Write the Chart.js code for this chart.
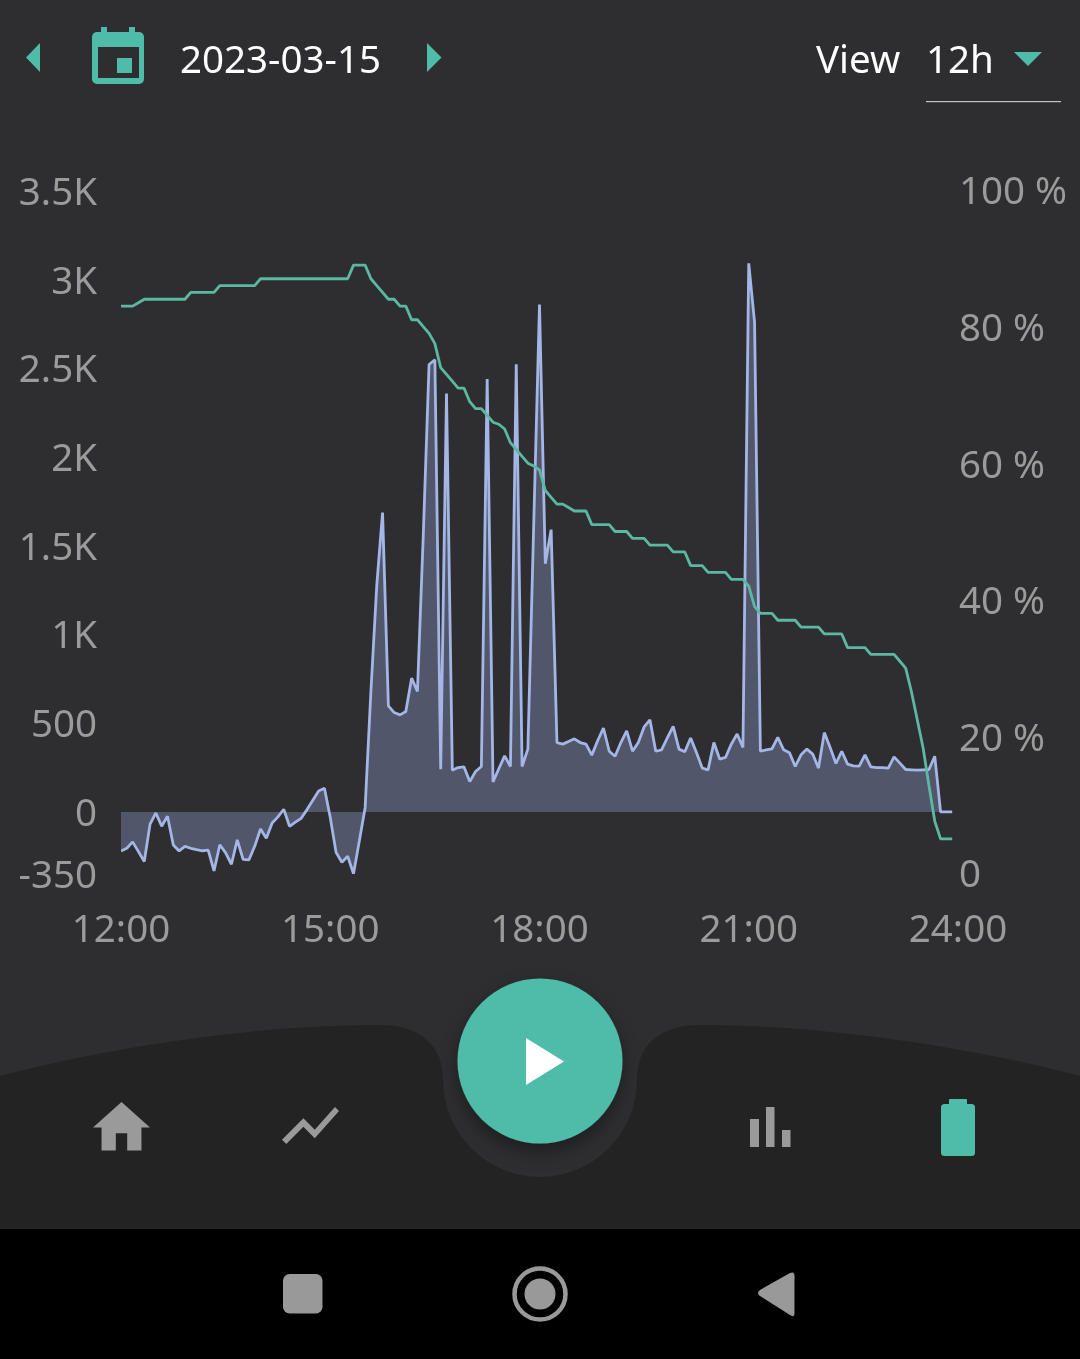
<!DOCTYPE html>
<html>
<head>
<meta charset="utf-8">
<title>Battery 2023-03-15</title>
<script src="https://cdn.jsdelivr.net/npm/chart.js@4"></script>
<style>
  html, body { margin: 0; padding: 0; background: #2e2e30; width: 1080px; height: 1359px; overflow: hidden; }
  body { position: relative; font-family: "Noto Sans", sans-serif; }
  #grafico { position: absolute; left: 0; top: 0; }
  #iconos { position: absolute; left: 0; top: 0; }
  .txt { position: absolute; color: #fff; font-size: 38.5px; line-height: 46px; white-space: nowrap; }
</style>
</head>
<body>
<canvas id="grafico" width="1080" height="960"></canvas>
<svg id="iconos" width="1080" height="1359" viewBox="0 0 1080 1359">
  <defs>
    <filter id="sombra" x="-30%" y="-30%" width="160%" height="160%">
      <feDropShadow dx="0" dy="8" stdDeviation="9" flood-color="#000" flood-opacity="0.35"/>
    </filter>
  </defs>
  <!-- barra superior -->
  <path d="M40 43 L26 57.5 L40 72 Z" fill="#4fbcaa"/>
  <rect x="101" y="27" width="6" height="8" fill="#4fbcaa"/>
  <rect x="129" y="27" width="6" height="8" fill="#4fbcaa"/>
  <rect x="92" y="32" width="52" height="52" rx="5" fill="#4fbcaa"/>
  <rect x="98" y="47" width="41" height="31" fill="#2e2e30"/>
  <rect x="117" y="58" width="15" height="15" fill="#4fbcaa"/>
  <path d="M427 43 L441.5 57.5 L427 72 Z" fill="#4fbcaa"/>
  <path d="M1014 52 L1042 52 L1028 66 Z" fill="#4fbcaa"/>
  <rect x="926" y="101" width="135" height="1.2" fill="#c4c4c4"/>
  <!-- barra inferior -->
  <path d="M0 1076 C130 1042 270 1025 380 1025 C420 1025 443 1045 443 1080 A97 97 0 0 0 637 1080 C637 1045 660 1025 700 1025 C810 1025 950 1042 1080 1076 L1080 1229 L0 1229 Z" fill="#232323"/>
  <circle cx="540" cy="1061" r="82.5" fill="#4fbcaa" filter="url(#sombra)"/>
  <path d="M526 1038 L564 1061.5 L526 1085 Z" fill="#fff"/>
  <path transform="translate(87.3 1093.4) scale(2.85)" d="M10 20v-6h4v6h5v-8h3L12 3 2 12h3v8z" fill="#9a9a9a"/>
  <path transform="translate(276.3 1091.3) scale(2.85)" d="M3.5 18.49l6-6.01 4 4L22 6.92l-1.41-1.41-7.09 7.97-4-4L2 16.99z" fill="#9a9a9a"/>
  <rect x="750" y="1119" width="9" height="28" fill="#9a9a9a"/>
  <rect x="766" y="1107" width="8.5" height="40" fill="#9a9a9a"/>
  <rect x="782" y="1130" width="8.5" height="17" fill="#9a9a9a"/>
  <rect x="949" y="1099" width="18" height="8" rx="1" fill="#4fbcaa"/>
  <rect x="941" y="1104" width="34" height="52" rx="3.5" fill="#4fbcaa"/>
  <!-- barra del sistema -->
  <rect x="0" y="1229" width="1080" height="130" fill="#000"/>
  <rect x="283" y="1274" width="39.5" height="39.5" rx="6.5" fill="#999"/>
  <circle cx="540" cy="1294" r="25.5" fill="none" stroke="#999" stroke-width="4.5"/>
  <circle cx="540" cy="1294" r="15.5" fill="#999"/>
  <path d="M760 1290 L790 1273 Q794.5 1271 794.5 1276 L794.5 1313 Q794.5 1318 790 1315 L760 1296 Q756 1293 760 1290 Z" fill="#999"/>
</svg>
<div class="txt" style="left:180px;top:35px">2023-03-15</div>
<div class="txt" style="left:816px;top:35px">View</div>
<div class="txt" style="left:926px;top:35px">12h</div>
<script>
// Potencia (W), una muestra cada 5 minutos desde las 12:00
const potencia = [
  -220, -205, -169, -224, -280, -69, -6, -81, -24, -186, -220, -194,
  -205, -213, -219, -216, -333, -185, -231, -295, -158, -267, -271, -194,
  -96, -149, -62, -28, 15, -81, -58, -36, 13, 66, 118, 133,
  -32, -228, -284, -250, -348, -164, 24, 683, 1275, 1687, 598, 560,
  547, 566, 754, 679, 1557, 2522, 2549, 241, 2359, 235, 250, 254,
  171, 228, 256, 2440, 169, 243, 316, 256, 2523, 256, 354, 1613,
  2860, 1399, 1591, 391, 382, 397, 412, 391, 382, 320, 401, 473,
  342, 314, 391, 457, 342, 391, 479, 519, 342, 350, 418, 482,
  354, 339, 417, 335, 247, 237, 391, 298, 307, 382, 439, 363,
  3092, 2759, 342, 350, 356, 420, 350, 334, 256, 322, 354, 326,
  247, 447, 363, 273, 342, 269, 259, 258, 322, 254, 250, 250,
  247, 310, 275, 239, 237, 235, 237, 239, 314, 0, 0, 0
];
// Carga de la batería (%)
const bateria = [
  83, 83, 83, 83.5, 84, 84, 84, 84, 84, 84, 84, 84,
  85, 85, 85, 85, 85, 86, 86, 86, 86, 86, 86, 86,
  87, 87, 87, 87, 87, 87, 87, 87, 87, 87, 87, 87,
  87, 87, 87, 87, 89, 89, 89, 87, 86, 85, 84, 84,
  83, 83, 81, 81, 80, 79, 77.5, 74, 73, 72, 71, 71,
  69, 68, 68, 67, 66, 65.7, 65, 63, 62, 61, 60, 59.6,
  59, 56, 55, 54, 54, 53.5, 53, 53, 53, 51, 51, 51,
  51, 50, 50, 50, 49, 49, 49, 48, 48, 48, 48, 47,
  47, 47, 45, 45, 45, 44, 44, 44, 44, 43, 43, 43,
  42, 39, 38, 38, 38, 37, 37, 37, 37, 36, 36, 36,
  36, 35, 35, 35, 35, 33, 33, 33, 33, 32, 32, 32,
  32, 32, 31, 30, 26.5, 22.4, 18.3, 12.8, 7.6, 5, 5, 5
];
const ticksX = [0, 180, 360, 540, 720];
const etiquetasX = ["12:00", "15:00", "18:00", "21:00", "24:00"];
const ticksPotencia = [-350, 0, 500, 1000, 1500, 2000, 2500, 3000, 3500];
const etiquetasPotencia = ["-350", "0", "500", "1K", "1.5K", "2K", "2.5K", "3K", "3.5K"];
const ticksBateria = [0, 20, 40, 60, 80, 100];
const etiquetasBateria = ["0", "20 %", "40 %", "60 %", "80 %", "100 %"];

const gris = "#9b9b9b";
const fuente = { family: "'Noto Sans', sans-serif", size: 38.5 };
// Con una primera línea vacía y lineHeight chico la etiqueta baja la mitad de ese valor respecto de la marca
const fuenteY = { family: "'Noto Sans', sans-serif", size: 38.5, lineHeight: "6px" };
const fuenteBateria = { family: "'Noto Sans', sans-serif", size: 38.5, lineHeight: "7px" };

const comoPuntos = (serie) => serie.map((y, i) => ({ x: i * 5, y: y }));

new Chart(document.getElementById("grafico"), {
  type: "line",
  data: {
    datasets: [
      {
        label: "Batería",
        data: comoPuntos(bateria),
        yAxisID: "yBateria",
        borderColor: "#5bb8a2",
        borderWidth: 2.8,
        fill: false,
        order: 1,
      },
      {
        label: "Potencia",
        data: comoPuntos(potencia),
        yAxisID: "yPotencia",
        borderColor: "#a3b6e6",
        borderWidth: 2.8,
        backgroundColor: "#51566a",
        fill: "origin",
        order: 2,
      },
    ],
  },
  options: {
    responsive: false,
    animation: false,
    devicePixelRatio: 1,
    layout: { autoPadding: false, padding: { top: 191, left: 0, right: 0, bottom: 0 } },
    elements: { point: { radius: 0 }, line: { tension: 0, borderJoinStyle: "bevel" } },
    plugins: { legend: { display: false }, tooltip: { enabled: false } },
    scales: {
      x: {
        type: "linear",
        min: 0,
        max: 720,
        grid: { display: false, drawTicks: false },
        border: { display: false },
        afterBuildTicks: (eje) => { eje.ticks = ticksX.map((v) => ({ value: v })); },
        afterFit: (eje) => { eje.height = 86; },
        ticks: {
          color: gris,
          font: fuente,
          padding: 34,
          maxRotation: 0,
          autoSkip: false,
          callback: (v) => etiquetasX[ticksX.indexOf(v)],
        },
      },
      yPotencia: {
        position: "left",
        min: -350,
        max: 3500,
        grid: { display: false, drawTicks: false },
        border: { display: false },
        afterBuildTicks: (eje) => { eje.ticks = ticksPotencia.map((v) => ({ value: v })); },
        afterFit: (eje) => { eje.width = 121; },
        ticks: {
          color: gris,
          font: fuenteY,
          padding: 24,
          autoSkip: false,
          callback: (v) => ["", etiquetasPotencia[ticksPotencia.indexOf(v)]],
        },
      },
      yBateria: {
        position: "right",
        min: -0.15,
        max: 99.85,
        grid: { display: false, drawTicks: false },
        border: { display: false },
        afterBuildTicks: (eje) => { eje.ticks = ticksBateria.map((v) => ({ value: v })); },
        afterFit: (eje) => { eje.width = 122; },
        ticks: {
          color: gris,
          font: fuenteBateria,
          padding: 1,
          autoSkip: false,
          callback: (v) => ["", etiquetasBateria[ticksBateria.indexOf(v)]],
        },
      },
    },
  },
});
</script>
</body>
</html>
